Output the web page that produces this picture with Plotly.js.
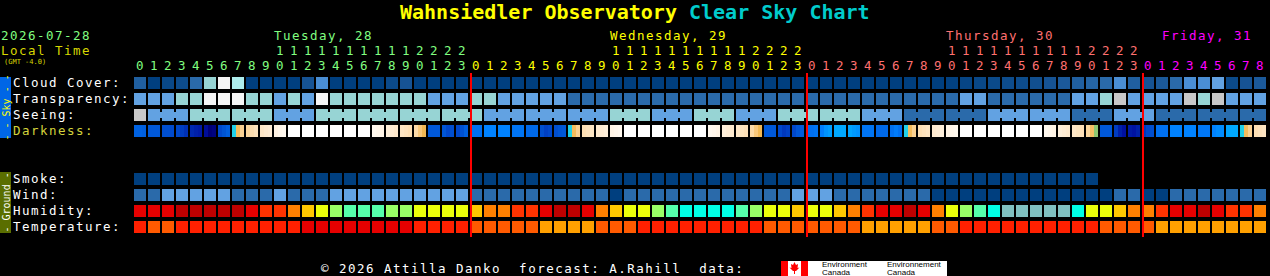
<!DOCTYPE html>
<html><head><meta charset="utf-8">
<script src="https://cdn.plot.ly/plotly-3.0.1.min.js"></script>
<style>html,body{margin:0;padding:0;background:#000;overflow:hidden}</style>
</head><body><div id="chart" style="width:1270px;height:276px"></div>
<script>
// ---------------- DATA ----------------
const chartDate = "2026-07-28";
const dayNames = ["Tuesday, 28", "Wednesday, 29", "Thursday, 30", "Friday, 31"];
const hoursPerDay = [24, 24, 24, 9];
const rowLabels = ["Cloud Cover:", "Transparency:", "Seeing:", "Darkness:", "", "", "Smoke:", "Wind:", "Humidity:", "Temperature:"];

// cloud cover, percent
const cloudCover = [30,0,8,12,40,70,100,80,0,0,0,0,20,50,0,0,0,0,10,20,0,
  0,0,0,0,0,0,0,0,0,0,
  0,0,0,0,0,0,0,0,0,0,
  0,0,0,0,0,0,0,0,0,0,
  0,0,0,0,0,0,0,
  2,5,8,10,12,12,15,20,25,30,35,40,50,30,20,25,40,50,50,60,10,20,25];
// 0 transparent/excellent .. 4 poor, 5 too cloudy
const transparency = [2,2,2,3,3,4,4,4,3,3,2,3,2,4,3,3,3,3,3,3,3,
  2,2,2,3,3,2,2,2,2,2,
  1,1,1,1,1,1,1,1,1,1,1,1,1,1,1,1,1,1,1,1,1,1,1,1,1,1,1,1,
  2,2,1,1,1,1,1,1,2,2,3,5,2,2,2,2,5,3,5,2,2,2];
const seeing = [5,2,2,2,3,3,3,3,3,3,2,2,2,3,3,3,3,3,3,3,3,3,3,3,3,
  2,2,2,2,2,2,2,2,2,3,3,3,2,2,2,3,3,3,2,2,2,3,3,3,3,3,3,2,2,2,
  1,1,1,1,1,1,2,2,2,2,2,2,1,1,1,2,2,2,1,1,1,1,1,1,1,1];
// limiting-magnitude style darkness, 3 samples per hour
const darkness = [
  3.2,3.2,3.3, 3.5,3.5,3.5, 3.8,3.8,3.9, 4.0,4.3,4.6, 4.8,5.0,5.2, 5.6,6.0,5.9, 3.9,3.6,3.3,
  0.6,-0.3,-0.8, -0.9,-1.2,-1.5, -1.8,-2.0,-2.2, -2.7,-3.0,-3.2,
  -4,-4,-4, -4,-4,-4, -4,-4,-4, -4,-4,-4, -4,-4,-4, -4,-4,-4,
  -3.2,-3.0,-2.8, -2.3,-2.1,-1.9, -1.7,-1.5,-1.3, -1.0,-0.6,-0.2,
  3.5,3.5,3.5, 3.6,4.0,3.8, 4.0,3.7,3.3,
  2.8,2.8,2.8, 2.3,2.3,2.3, 2.3,2.3,2.3, 2.7,2.7,2.7, 3.0,3.0,3.0, 3.8,4.2,4.0, 3.8,3.6,3.5,
  0.6,-0.3,-0.8, -1.3,-1.5,-1.7, -2.0,-2.2,-2.4, -2.8,-3.0,-3.2,
  -4,-4,-4, -4,-4,-4, -4,-4,-4, -4,-4,-4, -4,-4,-4, -4,-4,-4,
  -3.2,-3.0,-2.8, -2.4,-2.2,-2.0, -1.8,-1.6,-1.4, -1.0,-0.6,-0.2,
  3.5,3.5,3.5, 4.0,4.4,4.2, 4.0,3.6,3.4,
  2.9,2.8,2.7, 2.4,1.8,1.5, 1.2,1.2,1.2, 1.3,1.6,1.8, 2.7,2.7,2.7, 3.0,3.0,3.0, 2.8,2.5,2.8,
  0.6,-0.3,-0.8, -1.3,-1.5,-1.7, -2.0,-2.2,-2.4, -2.8,-3.0,-3.2,
  -4,-4,-4, -4,-4,-4, -4,-4,-4, -4,-4,-4, -4,-4,-4, -4,-4,-4,
  -3.2,-3.0,-2.8, -2.4,-2.2,-2.0, -1.8,-1.6,-1.4, -0.9,-0.4,0.3,
  3.5,3.5,3.5, 4.3,5.0,5.5, 5.2,5.4,5.0, 4.4,4.0,3.8,
  2.8,2.8,2.8, 2.3,2.3,2.3, 2.3,2.3,2.3, 2.6,2.6,2.6, 2.3,2.0,2.0, 1.3,1.2,1.2,
  0.6,-0.3,-0.8, -1.3,-1.5,-1.7];
const smoke = [0,0,0,0,0,0,0,0,0,0,0,0,0,0,0,0,0,0,0,0,0,0,0,0,
  0,0,0,0,0,0,0,0,0,0,0,0,0,0,0,0,0,0,0,0,0,0,0,0,
  0,0,0,0,0,0,0,0,0,0,0,0,0,0,0,0,0,0,0,0,0,
  null,null,null,null,null,null,null,null,null,null,null,null];
const wind = [1,1,2,2,2,2,2,1,1,1,2,1,1,1,2,2,2,2,2,2,2,2,2,2,
  1,1,1,1,1,1,1,1,1,1,0,1,1,1,1,1,1,1,1,1,1,1,1,2,2,2,
  1,1,1,1,1,1,1,0,0,0,0,0,0,0,0,0,0,0,0,0,1,1,0,0,1,1,1,1,1,1,1];
const humidity = [8,8,8,9,9,9,9,9,8,7,7,6,5,4,3,2,2,2,3,3,4,4,4,4,
  5,6,6,7,7,8,9,9,8,6,5,4,4,3,2,1,1,1,1,2,3,4,4,5,4,4,
  5,6,7,8,8,9,8,6,4,3,2,1,0,0,0,0,0,1,4,4,5,6,6,7,8,8,9,8,7,7,6];
const temperature = [2,1,1,2,2,2,2,2,2,2,2,2,3,3,3,3,3,3,3,3,2,2,2,2,
  1,1,1,1,1,0,0,0,0,1,1,1,2,2,2,2,2,2,2,2,2,1,1,1,1,1,1,1,
  0,0,0,0,0,1,1,2,2,2,2,2,2,2,2,2,2,1,1,1,1,0,0,0,0,0,0,0,0];

// ---------------- STYLE ----------------
const FONT = "DejaVu Sans Mono, monospace";
const TXT = 12.5;            // text size; widened with letter spacing after drawing
const dayColors = ["#80FF80", "#FFFF00", "#FF7070", "#FF00FF"];
const cloudScale = [[0,"#003F7F"],[0.1,"#0B4A8A"],[0.2,"#165394"],[0.3,"#205FA0"],[0.4,"#2A6AAA"],
  [0.5,"#4A8ED4"],[0.6,"#62A2E2"],[0.7,"#97D4D4"],[0.8,"#AEEDED"],[1,"#F5F5F5"]];
const skyPalette = ["#003F7F","#2A6AAA","#62A2E2","#97D4D4","#F5F5F5","#C8C8C8"];
const humPalette = ["#80C0C0","#00FFE6","#55FFAA","#99FF66","#EBFF0A","#FFC800","#FF8000","#FF3300","#E60000","#BE0000"];
const tempPalette = ["#FFA000","#FF5A00","#FF2000","#E60000"];
const darkMin = -4, darkMax = 6.5;
const darkStops = [[-4,"#FFFFFF"],[-3,"#FFF6EA"],[-2,"#FEEACF"],[-1,"#FCDAA8"],[-0.5,"#F8C470"],[0,"#EEB040"],
  [0.3,"#90C870"],[0.6,"#20D0E8"],[1.2,"#00A8FF"],[2.3,"#0082FF"],[2.8,"#0070F0"],[3.5,"#0058D8"],
  [4.2,"#0040C4"],[5.0,"#0020A8"],[5.5,"#0010A0"],[6.0,"#000078"],[6.5,"#000048"]];
const darkScale = darkStops.map(s => [(s[0]-darkMin)/(darkMax-darkMin), s[1]]);

// geometry: 14 px per hour, 16 px per row
const PXH = 14, PXR = 16, W = 1270, H = 276;
const x0 = -140/PXH, y0 = -83/PXR;
const py = p => y0 + p/PXR;           // pixel row -> y value
const CELL_W = 12/PXH, CELL_H = 12/PXR;

const N = cloudCover.length;
const hours = cloudCover.map((_, i) => i);
const dayStart = []; { let s = 0; hoursPerDay.forEach(n => { dayStart.push(s); s += n; }); }
const dayOf = i => { let d = 0; for (let k = 0; k < dayStart.length; k++) if (i >= dayStart[k]) d = k; return d; };

function rowBar(row, xs, color, extra) {
  return Object.assign({type:"bar", x:xs, y:xs.map(() => CELL_H), base:row - CELL_H/2, width:CELL_W,
    marker:{color:color, line:{width:0}}, hoverinfo:"skip", showlegend:false}, extra || {});
}

const traces = [];
traces.push(rowBar(0, hours, cloudCover, {marker:{color:cloudCover, colorscale:cloudScale, cmin:0, cmax:100, showscale:false, line:{width:0}}}));
traces.push(rowBar(1, hours, transparency.map(v => skyPalette[v])));
traces.push(rowBar(2, hours, seeing.map(v => skyPalette[v])));
// seeing bridges within 3-hour blocks
const bx = [], bc = [];
for (let i = 1; i < N - 1; i++) if ((i - 1) % 3 !== 2 && seeing[i] === seeing[i+1]) { bx.push(i + 0.5); bc.push(skyPalette[seeing[i]]); }
traces.push({type:"bar", x:bx, y:bx.map(() => 6/PXR), base:2 - 3/PXR, width:2.6/PXH,
  marker:{color:bc, line:{width:0}}, hoverinfo:"skip", showlegend:false});
// darkness, 3 sub-samples per hour
for (let j = 0; j < 3; j++) {
  const vals = hours.map(i => darkness[3*i + j]);
  traces.push({type:"bar", x:hours, y:hours.map(() => CELL_H), base:3 - CELL_H/2,
    width:4.15/PXH, offset:(-6 + 4*j)/PXH,
    marker:{color:vals, colorscale:darkScale, cmin:darkMin, cmax:darkMax, showscale:false, line:{width:0}},
    hoverinfo:"skip", showlegend:false});
}
const smokeX = hours.filter(i => smoke[i] !== null);
traces.push(rowBar(6, smokeX, smokeX.map(i => skyPalette[smoke[i]])));
traces.push(rowBar(7, hours, wind.map(v => skyPalette[v])));
traces.push(rowBar(8, hours, humidity.map(v => humPalette[v])));
traces.push(rowBar(9, hours, temperature.map(v => tempPalette[v])));

// ---------------- TEXT ----------------
const ann = [];
const A = o => ann.push(Object.assign({showarrow:false, xref:"x", yref:"y", borderpad:0, borderwidth:0,
  font:{family:FONT, size:TXT, color:"#FFFFFF"}}, o));
const L = o => A(Object.assign({xanchor:"left", align:"left"}, o));
// title
A({xref:"paper", x:0.5, y:py(12), xanchor:"center",
  text:"<b>Wahnsiedler Observatory</b> <span style='color:#00CCCC'><b>Clear Sky Chart</b></span>",
  font:{family:FONT, size:20, color:"#FFFF00"}});
L({xref:"paper", x:1/W, y:py(35), text:chartDate, font:{family:FONT, size:TXT, color:dayColors[0]}});
L({xref:"paper", x:1/W, y:py(50), text:"Local Time", font:{family:FONT, size:TXT, color:"#D8D800"}});
L({xref:"paper", x:4/W, y:py(61.5), text:"(GMT -4.0)", font:{family:FONT, size:7, color:"#D8D800"}});
// day labels (left edge on the 10th hour of full days)
const dayLabelHour = [10, 10, 10, 1.43];
dayNames.forEach((d, k) => L({x:dayStart[k] + dayLabelHour[k] - 6/PXH, y:py(35), text:d,
  font:{family:FONT, size:TXT, color:dayColors[k]}}));
// hour digits
hours.forEach(i => {
  const k = dayOf(i), h = i - dayStart[k];
  A({x:i, y:py(65), xanchor:"center", text:String(h % 10), font:{family:FONT, size:TXT, color:dayColors[k]}});
  if (h >= 10) A({x:i, y:py(50), xanchor:"center", text:String(Math.floor(h/10)), font:{family:FONT, size:TXT, color:dayColors[k]}});
});
// row labels
rowLabels.forEach((t, r) => { if (t) L({xref:"paper", x:13/W, y:r - 1/PXR, text:t,
  font:{family:FONT, size:TXT, color:r === 3 ? "#D4D43C" : "#FFFFFF"}}); });
// side bars text
A({xref:"paper", x:6/W, y:py(107.5), xanchor:"center", textangle:-90, text:"- - Sky - -", font:{family:FONT, size:10, color:"#FFFF00"}});
A({xref:"paper", x:6/W, y:py(202.5), xanchor:"center", textangle:-90, text:"- Ground -", font:{family:FONT, size:10, color:"#FFFFFF"}});
// footer
L({xref:"paper", x:321/W, y:py(268),
  text:"\u00A9 2026 Attilla Danko\u00A0\u00A0forecast: A.Rahill\u00A0\u00A0data:", font:{family:FONT, size:TXT, color:"#FFFFFF"}});
const LF = {family:"Liberation Sans, Arial, sans-serif", size:8, color:"#000000"};
L({xref:"paper", x:822/W, y:py(264.5), text:"Environment", font:LF});
L({xref:"paper", x:822/W, y:py(272), text:"Canada", font:LF});
L({xref:"paper", x:887/W, y:py(264.5), text:"Environnement", font:LF});
L({xref:"paper", x:887/W, y:py(272), text:"Canada", font:LF});

// ---------------- SHAPES ----------------
const shapes = [];
const px = p => p / W;
shapes.push({type:"rect", xref:"paper", yref:"y", x0:0, x1:px(11), y0:py(77), y1:py(138), fillcolor:"#0066E6", line:{width:0}, layer:"below"});
shapes.push({type:"rect", xref:"paper", yref:"y", x0:0, x1:px(11), y0:py(172), y1:py(233), fillcolor:"#5A6E00", line:{width:0}, layer:"below"});
// midnight lines
dayStart.slice(1).forEach(s => shapes.push({type:"line", xref:"x", yref:"y", x0:s - 5/PXH, x1:s - 5/PXH,
  y0:py(73), y1:py(237), line:{color:"#FF0000", width:2}}));
// Environment Canada logo
shapes.push({type:"rect", xref:"paper", yref:"y", x0:px(781), x1:px(947), y0:py(261), y1:py(277), fillcolor:"#FFFFFF", line:{width:0}});
shapes.push({type:"rect", xref:"paper", yref:"y", x0:px(781), x1:px(788), y0:py(261), y1:py(277), fillcolor:"#FF0000", line:{width:0}});
shapes.push({type:"rect", xref:"paper", yref:"y", x0:px(801), x1:px(808), y0:py(261), y1:py(277), fillcolor:"#FF0000", line:{width:0}});
const leaf = [[794.5,262],[796,265],[798,264],[797.5,268],[799.5,267.5],[796,271],[795,271],[795,274],[794,274],[794,271],[793,271],[789.5,267.5],[791.5,268],[791,264],[793,265]];
shapes.push({type:"path", xref:"paper", yref:"y",
  path:"M" + leaf.map(p => px(p[0]) + "," + py(p[1])).join(" L") + " Z", fillcolor:"#FF0000", line:{width:0}});

const layout = {
  width:W, height:H, margin:{l:0, r:0, t:0, b:0, pad:0},
  paper_bgcolor:"#000000", plot_bgcolor:"#000000",
  barmode:"overlay", bargap:0, showlegend:false,
  xaxis:{range:[x0, x0 + W/PXH], visible:false, fixedrange:true},
  yaxis:{range:[y0 + H/PXR, y0], visible:false, fixedrange:true},
  annotations:ann, shapes:shapes
};
Plotly.newPlot("chart", traces, layout, {staticPlot:true, displayModeBar:false}).then(() => {
  // the original bitmap font is wide: widen multi-character texts to its 9 px advance
  document.querySelectorAll("#chart .annotation-text").forEach(t => {
    if (t.style.fontSize === TXT + "px" && t.textContent.length > 1) t.style.letterSpacing = (9 - 0.602*TXT).toFixed(2) + "px";
  });
});
</script></body></html>
